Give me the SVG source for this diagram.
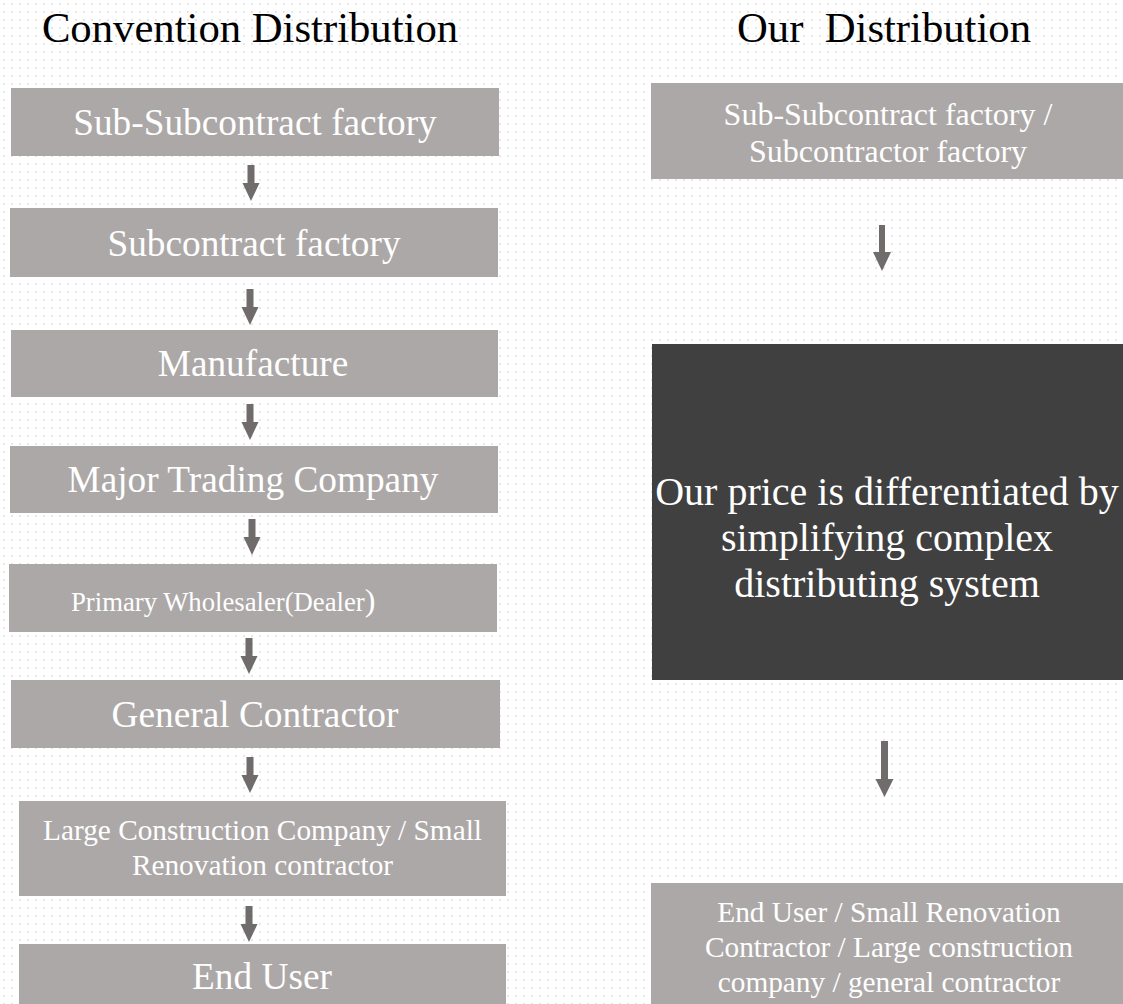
<svg xmlns="http://www.w3.org/2000/svg" width="1123" height="1004" viewBox="0 0 1123 1004">
  <defs>
    <pattern id="dots" x="0" y="0" width="8" height="8" patternUnits="userSpaceOnUse">
      <rect x="3" y="3" width="2" height="2" fill="#e6e6e6"/>
    </pattern>
    <style>
      .box { fill: #aca8a7; }
      .dark { fill: #404040; }
      .title { font-family: "Liberation Serif", "Times New Roman", serif; font-size: 42.7px; fill: #000; text-anchor: middle; }
      .lbl { font-family: "Liberation Serif", "Times New Roman", serif; fill: #ffffff; text-anchor: middle; }
      .f28 { font-size: 37.3px; }
      .f24 { font-size: 32px; }
      .f22 { font-size: 29.3px; }
      .f20 { font-size: 26.7px; }
      .f30 { font-size: 40px; }
      .arrow { fill: #706c6b; }
    </style>
  </defs>

  <rect x="0" y="0" width="1123" height="1004" fill="#ffffff"/>
  <rect x="0" y="0" width="1123" height="1004" fill="url(#dots)"/>

  <text class="title" x="250" y="42">Convention Distribution</text>
  <text class="title" x="884" y="42" xml:space="preserve">Our  Distribution</text>

  <g id="node-sub-subcontract">
    <rect class="box" x="11" y="88" width="488" height="68"/>
    <text class="lbl f28" x="255" y="135">Sub-Subcontract factory</text>
  </g>
  <g id="node-subcontract">
    <rect class="box" x="10" y="208" width="488" height="69"/>
    <text class="lbl f28" x="254" y="255.5">Subcontract factory</text>
  </g>
  <g id="node-manufacture">
    <rect class="box" x="11" y="330" width="487" height="67"/>
    <text class="lbl f28" x="253" y="375.5">Manufacture</text>
  </g>
  <g id="node-major-trading">
    <rect class="box" x="10" y="446" width="488" height="67"/>
    <text class="lbl f28" x="253" y="492">Major Trading Company</text>
  </g>
  <g id="node-primary-wholesaler">
    <rect class="box" x="9" y="564" width="488" height="68"/>
    <text class="lbl f20" x="71" y="611" style="text-anchor:start">Primary Wholesaler(Dealer<tspan style="font-size:32px">)</tspan></text>
  </g>
  <g id="node-general-contractor">
    <rect class="box" x="11" y="680" width="489" height="68"/>
    <text class="lbl f28" x="255" y="727">General Contractor</text>
  </g>
  <g id="node-large-construction">
    <rect class="box" x="19" y="801" width="487" height="95"/>
    <text class="lbl f22" x="262.5" y="840">Large Construction Company / Small</text>
    <text class="lbl f22" x="262.5" y="875">Renovation contractor</text>
  </g>
  <g id="node-end-user">
    <rect class="box" x="19" y="944" width="487" height="60"/>
    <text class="lbl f28" x="262" y="989">End User</text>
  </g>

  <g id="node-our-factory">
    <rect class="box" x="651" y="83" width="472" height="96"/>
    <text class="lbl f24" x="888" y="125">Sub-Subcontract factory /</text>
    <text class="lbl f24" x="888" y="162">Subcontractor factory</text>
  </g>
  <g id="node-our-price">
    <rect class="dark" x="652" y="344" width="471" height="336"/>
    <text class="lbl f30" x="887" y="505">Our price is differentiated by</text>
    <text class="lbl f30" x="887" y="551">simplifying complex</text>
    <text class="lbl f30" x="887" y="597">distributing system</text>
  </g>
  <g id="node-our-end-user">
    <rect class="box" x="651" y="883" width="472" height="121"/>
    <text class="lbl f22" x="889" y="922">End User / Small Renovation</text>
    <text class="lbl f22" x="889" y="957">Contractor / Large construction</text>
    <text class="lbl f22" x="889" y="992">company / general contractor</text>
  </g>

  <g id="connectors">
    <path class="arrow" d="M247.5,165 H254.5 V183 H259.5 L251,201 L242.5,183 H247.5 Z"/>
    <path class="arrow" d="M246.5,289 H253.5 V307 H258.5 L250,325 L241.5,307 H246.5 Z"/>
    <path class="arrow" d="M246.5,404 H253.5 V422 H258.5 L250,440 L241.5,422 H246.5 Z"/>
    <path class="arrow" d="M248.5,519 H255.5 V537 H260.5 L252,555 L243.5,537 H248.5 Z"/>
    <path class="arrow" d="M245.5,638 H252.5 V656 H257.5 L249,674 L240.5,656 H245.5 Z"/>
    <path class="arrow" d="M246.5,757 H253.5 V775 H258.5 L250,793 L241.5,775 H246.5 Z"/>
    <path class="arrow" d="M245.5,906 H252.5 V924 H257.5 L249,942 L240.5,924 H245.5 Z"/>
    <path class="arrow" d="M879,225 H885 V252 H891 L882,271 L873,252 H879 Z"/>
    <path class="arrow" d="M881,741 H888 V779 H893.5 L884.5,797 L875.5,779 H881 Z"/>
  </g>
</svg>
